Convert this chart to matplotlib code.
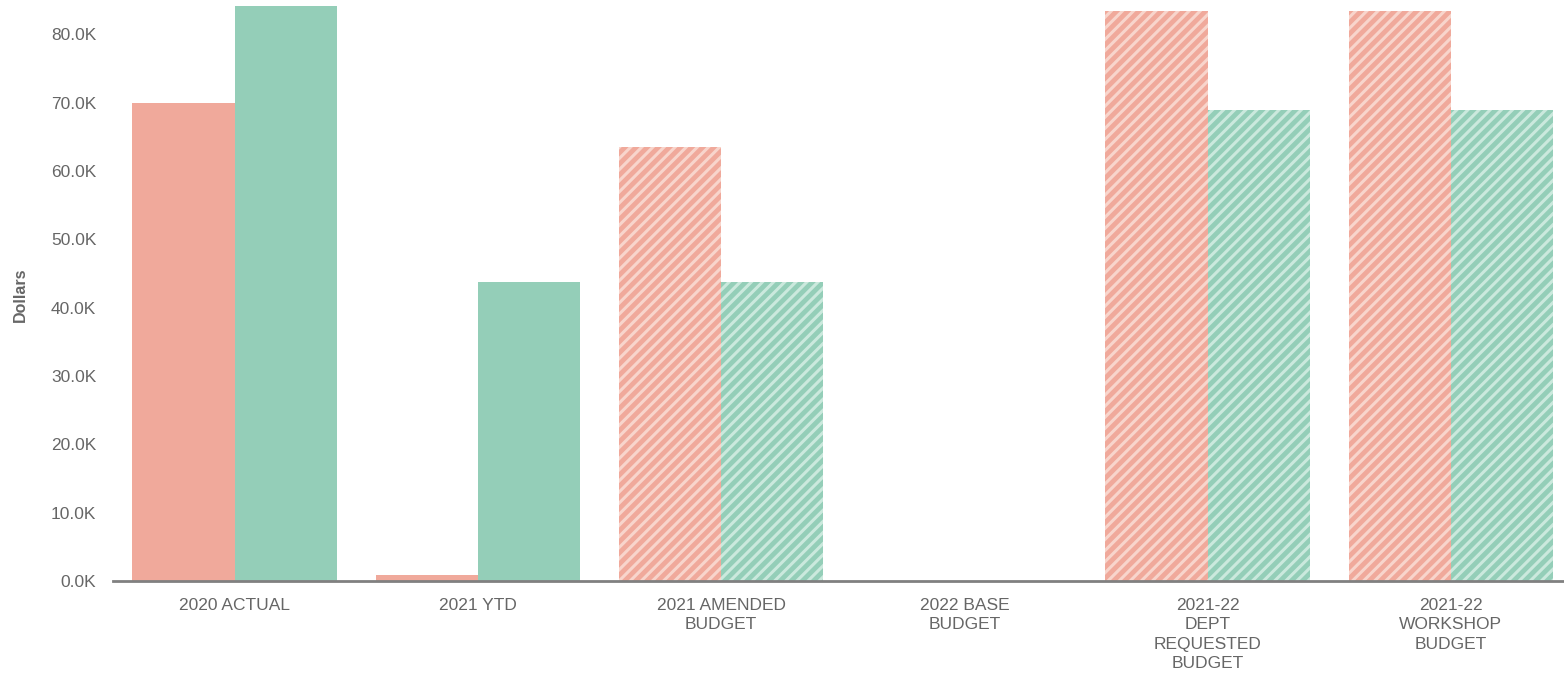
import numpy as np
import matplotlib.pyplot as plt
from matplotlib.ticker import FuncFormatter

plt.rcParams['font.family'] = ['Liberation Sans', 'DejaVu Sans']
plt.rcParams['hatch.linewidth'] = 2.2

categories = ['2020 ACTUAL', '2021 YTD', '2021 AMENDED\nBUDGET', '2022 BASE\nBUDGET',
              '2021-22\nDEPT\nREQUESTED\nBUDGET', '2021-22\nWORKSHOP\nBUDGET']
series_a = [69900, 900, 63500, 0, 83400, 83400]
series_b = [84100, 43700, 43700, 0, 68900, 68900]
hatched = [False, False, True, True, True, True]

salmon = '#F0A99B'
green = '#94CEB8'

fig = plt.figure(figsize=(15.64, 6.73), dpi=100)
ax = fig.add_axes([113 / 1564, 1 - 581 / 673, 1 - 113 / 1564, 581 / 673])

x = np.arange(len(categories))
w = 0.42
for i in x:
    h = '///' if hatched[i] else None
    ax.bar(i - w / 2, series_a[i], w, color=salmon, hatch=h,
           edgecolor='#F8D5CC' if h else salmon, linewidth=0)
    ax.bar(i + w / 2, series_b[i], w, color=green, hatch=h,
           edgecolor='#CBE9DD' if h else green, linewidth=0)

ax.set_xlim(-0.5, 5.465)
ax.set_ylim(0, 85000)
ax.set_yticks(np.arange(0, 80001, 10000))
ax.yaxis.set_major_formatter(FuncFormatter(lambda v, p: f'{v / 1000:.1f}K'))
ax.set_xticks(x)
ax.set_xticklabels(categories, linespacing=1.38)
ax.tick_params(axis='both', length=0, labelsize=12.5, labelcolor='#666666')
ax.tick_params(axis='x', pad=12)
ax.tick_params(axis='y', pad=12)

for s in ['top', 'right', 'left']:
    ax.spines[s].set_visible(False)
ax.spines['bottom'].set_color('#808080')
ax.spines['bottom'].set_linewidth(2)

fig.text(20 / 1564, 1 - 295 / 673, 'Dollars', rotation=90, ha='center', va='center',
         fontsize=11.5, fontweight='bold', color='#666666')

fig.savefig('out.png', dpi=100)
